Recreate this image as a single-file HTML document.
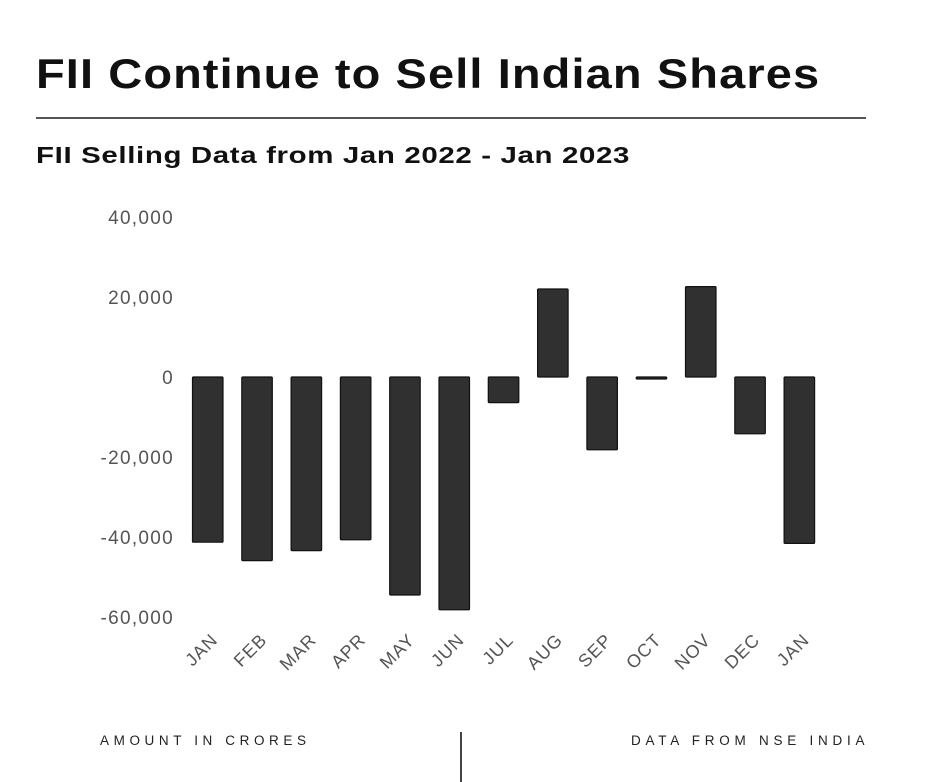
<!DOCTYPE html>
<html><head><meta charset="utf-8">
<style>
body{margin:0;width:928px;height:782px;background:#fff;font-family:"Liberation Sans",sans-serif;position:relative;overflow:hidden}
.t{position:absolute;color:#111;white-space:nowrap;transform-origin:0 0}
</style></head><body>
<div class="t" style="left:36px;top:50px;font-size:42px;font-weight:bold;letter-spacing:1px;transform:scaleX(1.118)">FII Continue to Sell Indian Shares</div>
<div style="position:absolute;left:36px;top:117px;width:830px;height:2px;background:#555"></div>
<div class="t" style="left:36px;top:142px;font-size:23px;font-weight:bold;letter-spacing:0.5px;transform:scaleX(1.28)">FII Selling Data from Jan 2022 - Jan 2023</div>
<svg id="chart" width="928" height="782" style="position:absolute;left:0;top:0"></svg>
<div class="t" style="left:100px;top:733px;font-size:13.5px;letter-spacing:4.6px;color:#222">AMOUNT IN CRORES</div>
<div style="position:absolute;left:460px;top:732px;width:2px;height:50px;background:#444"></div>
<div class="t" style="left:631px;top:733px;font-size:13.5px;letter-spacing:4.75px;color:#222">DATA FROM NSE INDIA</div>
<script>
const categories=["JAN","FEB","MAR","APR","MAY","JUN","JUL","AUG","SEP","OCT","NOV","DEC","JAN"];
const values=[-41300,-45900,-43400,-40700,-54500,-58200,-6400,22000,-18200,-500,22600,-14200,-41600];
const ticks=[40000,20000,0,-20000,-40000,-60000];
const tickLabels=["40,000","20,000","0","-20,000","-40,000","-60,000"];
const NS="http://www.w3.org/2000/svg";
const svg=document.getElementById('chart');
const y=v=>377-v*80/20000;
const x=i=>192.5+i*49.3;
const bw=30.5;
ticks.forEach((t,i)=>{
 const e=document.createElementNS(NS,'text');
 
 
 e.setAttribute('x',174);e.setAttribute('y',y(t)+7);
 e.setAttribute('text-anchor','end');e.setAttribute('font-size','19');
 e.setAttribute('letter-spacing','1.3');
 e.setAttribute('fill','#555');e.setAttribute('font-family','Liberation Sans, sans-serif');
 e.textContent=tickLabels[i];svg.appendChild(e);
});
values.forEach((v,i)=>{
 const r=document.createElementNS(NS,'rect');
 
 
 const top=Math.min(y(v),y(0)),h=Math.max(Math.abs(y(v)-y(0)),1.5);
 r.setAttribute('x',x(i));r.setAttribute('y',top);r.setAttribute('width',bw);r.setAttribute('height',h);
 r.setAttribute('fill','#303030');r.setAttribute('stroke','#111');r.setAttribute('stroke-width','1.2');r.setAttribute('rx','1');
 svg.appendChild(r);
 const e=document.createElementNS(NS,'text');
 
 
 const cx=x(i)+bw/2+11,cy=641;
 e.setAttribute('x',cx);e.setAttribute('y',cy);
 e.setAttribute('text-anchor','end');e.setAttribute('font-size','18');
 e.setAttribute('letter-spacing','1');
 e.setAttribute('fill','#555');e.setAttribute('font-family','Liberation Sans, sans-serif');
 e.setAttribute('transform','rotate(-45 '+cx+' '+cy+')');
 e.textContent=categories[i];svg.appendChild(e);
});
</script>
</body></html>
